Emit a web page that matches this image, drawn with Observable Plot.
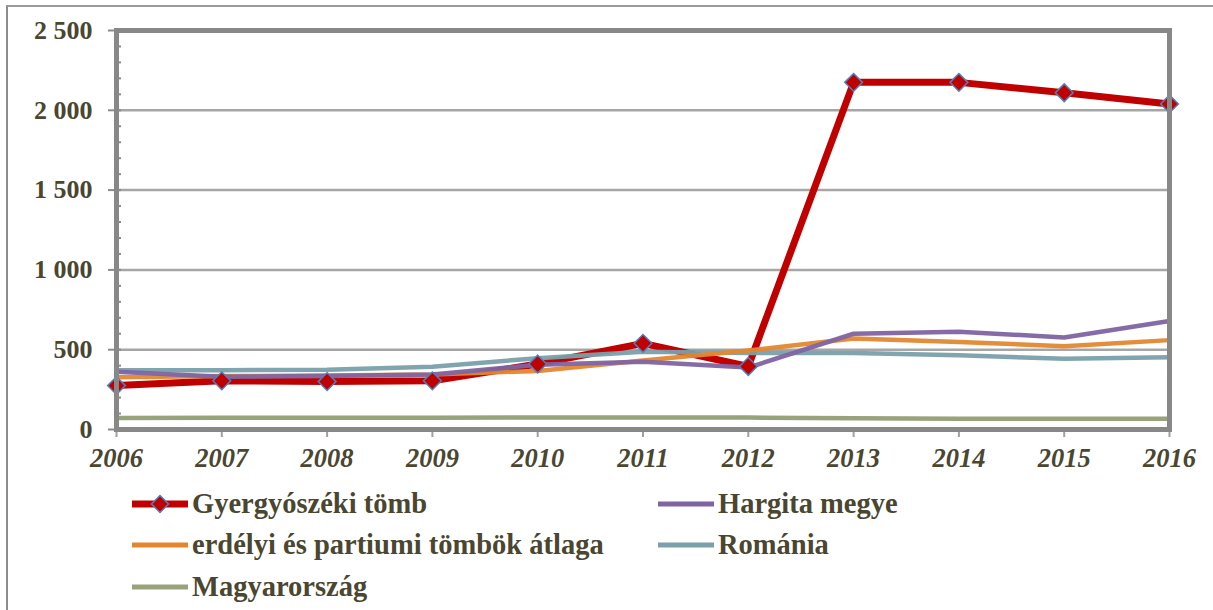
<!DOCTYPE html>
<html>
<head>
<meta charset="utf-8">
<script src="https://cdn.jsdelivr.net/npm/d3@7"></script>
<script src="https://cdn.jsdelivr.net/npm/@observablehq/plot@0.6"></script>
<style>
  html, body { margin: 0; padding: 0; background: #fff; }
  body { width: 1213px; height: 610px; position: relative; overflow: hidden; font-family: "Liberation Serif", "Times New Roman", Times, serif; }
  #border { position: absolute; left: 6px; top: 5px; right: -4px; bottom: -4px; border-left: 2px solid #8c8c8c; border-top: 2px solid #9a9a9a; pointer-events: none; }
  #chart { position: absolute; left: 0; top: 0; }
  #legend { position: absolute; left: 132px; top: 483px; display: grid; grid-template-columns: 526px 420px; grid-auto-rows: 41.5px; }
  .item { display: flex; align-items: center; font-family: "Liberation Serif", "Times New Roman", Times, serif; font-weight: bold; font-size: 28.5px; color: #4a4630; white-space: nowrap; }
  .item svg { margin-right: 4px; flex: none; }
  svg text { font-family: "Liberation Serif", "Times New Roman", Times, serif; }
</style>
</head>
<body>
<div id="border"></div>
<div id="chart"></div>
<div id="legend"></div>
<script>
const years = [2006, 2007, 2008, 2009, 2010, 2011, 2012, 2013, 2014, 2015, 2016];
const gyergyo = [275, 305, 300, 305, 410, 540, 395, 2175, 2175, 2110, 2040];
const hargita = [362, 330, 335, 345, 405, 425, 388, 600, 612, 577, 680];
const erdelyi = [328, 335, 338, 345, 367, 433, 495, 570, 548, 522, 560];
const romania = [372, 372, 375, 393, 447, 487, 480, 480, 465, 443, 453];
const magyar = [72, 73, 73, 73, 75, 75, 75, 70, 68, 68, 68];
const yTicks = [0, 500, 1000, 1500, 2000, 2500];
const seriesNames = ["Gyergyószéki tömb", "Hargita megye", "erdélyi és partiumi tömbök átlaga", "Románia", "Magyarország"];
const colors = ["#c00000", "#8064a2", "#e3872f", "#7aa0aa", "#98a37c"];

const tbl = vals => years.map((year, i) => ({year, v: vals[i]}));
const fmt = d => d3.format(",")(d).replace(",", " ");

const chart = Plot.plot({
  width: 1213,
  height: 480,
  marginLeft: 116,
  marginRight: 44,
  marginTop: 30,
  marginBottom: 51,
  style: {fontFamily: "'Liberation Serif', 'Times New Roman', serif", fontWeight: "bold", fontSize: "26px", color: "#4a4630", background: "transparent", overflow: "visible"},
  x: {domain: [2006, 2016]},
  y: {domain: [0, 2500]},
  marks: [
    Plot.gridY([500, 1000, 1500, 2000], {stroke: "#a6a6a6", strokeOpacity: 1, strokeWidth: 2.5}),
    Plot.axisY(d3.range(0, 2501, 100), {tickSize: -5, text: null, label: null, stroke: "#8a8a8a", strokeWidth: 2}),
    Plot.axisY(yTicks, {tickSize: 8, tickPadding: 16, tickFormat: fmt, stroke: "#8a8a8a", strokeWidth: 2, fill: "#4a4630", fontSize: 26, label: null}),
    Plot.axisX(years, {tickSize: 8, tickPadding: 11, tickFormat: d => String(d), stroke: "#a0a0a0", strokeWidth: 2, fill: "#4a4630", fontSize: 26.5, fontStyle: "italic", label: null}),
    Plot.line(tbl(magyar), {x: "year", y: "v", stroke: colors[4], strokeWidth: 4.5}),
    Plot.line(tbl(gyergyo), {x: "year", y: "v", stroke: colors[0], strokeWidth: 7}),
    Plot.line(tbl(romania), {x: "year", y: "v", stroke: colors[3], strokeWidth: 4.5, strokeOpacity: 0.95}),
    Plot.line(tbl(erdelyi), {x: "year", y: "v", stroke: colors[2], strokeWidth: 4.5, strokeOpacity: 0.95}),
    Plot.line(tbl(hargita), {x: "year", y: "v", stroke: colors[1], strokeWidth: 4.5, strokeOpacity: 0.95}),
    Plot.dot(tbl(gyergyo), {x: "year", y: "v", symbol: "diamond2", r: 8, fill: colors[0], stroke: "#4f81bd", strokeWidth: 1.5}),
    Plot.frame({stroke: "#888888", strokeWidth: 5})
  ]
});
document.getElementById("chart").append(chart);

const legend = document.getElementById("legend");
seriesNames.forEach((name, i) => {
  const item = document.createElement("div");
  item.className = "item";
  const w = 56, h = 22;
  const sw = i === 0 ? 7 : 5;
  let svg = `<svg width="${w}" height="${h}"><line x1="0" x2="${w}" y1="${h/2}" y2="${h/2}" stroke="${colors[i]}" stroke-width="${sw}"/>`;
  if (i === 0) {
    const c = 28, r = 8.5;
    svg += `<path d="M${c},${h/2 - r}L${c + r},${h/2}L${c},${h/2 + r}L${c - r},${h/2}Z" fill="${colors[0]}" stroke="#4f81bd" stroke-width="1.5"/>`;
  }
  svg += `</svg>`;
  item.innerHTML = svg + `<span>${name}</span>`;
  legend.append(item);
});
</script>
</body>
</html>
